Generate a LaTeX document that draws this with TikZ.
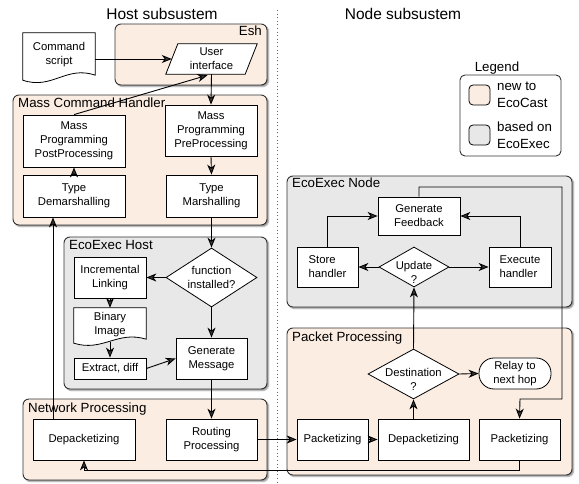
\documentclass[tikz,border=0pt]{standalone}
\usepackage{fontspec}
\setmainfont{Liberation Sans}
\usetikzlibrary{shapes.geometric,shadows.blur,arrows.meta}
\definecolor{peach}{HTML}{FBEDE2}
\definecolor{greyfill}{HTML}{E8E8E8}
\definecolor{frame}{HTML}{333333}
\newcommand{\nodefont}{\fontsize{11.3}{14}\selectfont}
\newcommand{\contfont}{\fontsize{13.3}{16}\selectfont}
\newcommand{\legfont}{\fontsize{13.3}{17}\selectfont}
\newcommand{\titlefont}{\fontsize{15.5}{18}\selectfont}
\tikzset{
  cont/.style={draw=frame, line width=0.9pt, rounded corners=6,
    blur shadow={shadow xshift=1.6pt, shadow yshift=-1.6pt, shadow blur steps=4, shadow blur radius=1.2pt, shadow opacity=45}},
  peachcont/.style={cont, fill=peach},
  greycont/.style={cont, fill=greyfill},
  contlabel/.style={font=\contfont, inner sep=0, anchor=base west},
  box/.style={draw, fill=white, line width=0.8pt, align=center, inner sep=0, font=\nodefont},
  plain/.style={inner sep=0, align=center, font=\nodefont},
  dia/.style={diamond, draw, fill=white, line width=0.8pt, inner sep=0},
  dialabel/.style={font=\nodefont, align=center, inner sep=0},
  docshape/.style={draw, fill=white, line width=0.8pt},
  arr/.style={line width=0.9pt, -{Stealth[length=10pt, width=8pt, inset=3pt]}},
  ln/.style={line width=0.9pt}
}
\begin{document}
\begin{tikzpicture}[x=1pt, y=-1pt]
\useasboundingbox (0,0) rectangle (579,484);

% titles
\node[font=\titlefont, inner sep=0] (htitle) at (162,14) {Host subsustem};
\node[font=\titlefont, inner sep=0] (ntitle) at (403,14) {Node subsustem};

% divider
\draw[draw=black!60, line width=0.9pt, dash pattern=on 1pt off 2.6pt] (277,10) -- (277,484);

% containers
\path[peachcont] (115,24) rectangle (267,85);
\node[font=\contfont, inner sep=0, anchor=base east] (eshlbl) at (262,36) {Esh};
\path[peachcont] (13,95) rectangle (267,225);
\node[contlabel] (mchlbl) at (18,108) {Mass Command Handler};
\path[greycont] (64,237) rectangle (267,389);
\node[contlabel] (ehlbl) at (69,250) {EcoExec Host};
\path[peachcont] (23,399) rectangle (267,480);
\node[contlabel] (nplbl) at (28,412) {Network Processing};
\path[greycont] (287,176) rectangle (572,307);
\node[contlabel] (enlbl) at (292,188) {EcoExec Node};
\path[peachcont] (287,328) rectangle (572,475);
\node[contlabel] (pplbl) at (292,341) {Packet Processing};

% legend
\node[font=\legfont, inner sep=0, anchor=base] (leglbl) at (497,72) {Legend};
\draw[line width=0.9pt, draw=frame, fill=white, rounded corners=5] (460,75) rectangle (561,156);
\draw[line width=0.8pt, fill=peach, rounded corners=4] (469,85) rectangle (490,105);
\draw[line width=0.8pt, fill=greyfill, rounded corners=4] (469,125) rectangle (490,145);
\node[font=\legfont, inner sep=0, align=left, anchor=west] (leg1) at (497,95) {new to\\EcoCast};
\node[font=\legfont, inner sep=0, align=left, anchor=west] (leg2) at (497,135) {based on\\EcoExec};

% command script (document)
\node[plain, minimum width=72, minimum height=49] (cs) at (59,57.5) {};
\draw[docshape] (cs.north west) -- (cs.north east) -- ([yshift=7]cs.south east)
  .. controls ([xshift=-29,yshift=17]cs.south east) and ([xshift=29,yshift=-8]cs.south west) .. ([yshift=2]cs.south west) -- cycle;
\node[plain] (cstext) at (59,55) {Command\\script};

% user interface (parallelogram)
\node[plain, minimum width=79, minimum height=30] (ui) at (211.5,59) {};
\draw[docshape] ([xshift=-6]ui.south west) -- ([xshift=6]ui.north west) -- ([xshift=6]ui.north east) -- ([xshift=-6]ui.south east) -- cycle;
\node[plain] (uitext) at (211.5,59) {User\\interface};

% mass command handler
\node[box, minimum width=102, minimum height=52] (post) at (74,141) {Mass\\Programming\\PostProcessing};
\node[box, minimum width=92, minimum height=51] (pre) at (211,130.5) {Mass\\Programming\\PreProcessing};
\node[box, minimum width=102, minimum height=42] (demarsh) at (74,196) {Type\\Demarshalling};
\node[box, minimum width=91, minimum height=42] (marsh) at (211.5,196) {Type\\Marshalling};

% ecoexec host
\node[dia, minimum width=91, minimum height=59,
  label={[dialabel]center:function\\installed?}] (fi) at (211.5,277.5) {};
\node[box, minimum width=72, minimum height=41] (inc) at (110,277.5) {Incremental\\Linking};
\node[plain, minimum width=72, minimum height=37] (bin) at (110,326.5) {};
\draw[docshape] (bin.north west) -- (bin.north east) -- ([yshift=6]bin.south east)
  .. controls ([xshift=-29,yshift=15]bin.south east) and ([xshift=29,yshift=-7]bin.south west) .. ([yshift=2]bin.south west) -- cycle;
\node[plain] (bintext) at (110,325) {Binary\\Image};
\node[box, minimum width=72, minimum height=21] (extr) at (110,368.5) {Extract, diff};
\node[box, minimum width=71, minimum height=41] (gm) at (211.5,358.5) {Generate\\Message};

% network processing
\node[box, minimum width=102, minimum height=41] (hdep) at (84,439.5) {Depacketizing};
\node[box, minimum width=91, minimum height=41] (rp) at (211.5,439.5) {Routing\\Processing};

% ecoexec node
\node[box, minimum width=82, minimum height=38] (fb) at (419,216) {Generate\\Feedback};
\node[box, minimum width=61, minimum height=40, align=left] (store) at (327.5,267) {Store\\handler};
\node[dia, minimum width=70, minimum height=40,
  label={[dialabel, yshift=-5]center:Update\\?}] (upd) at (414,267) {};
\node[box, minimum width=62, minimum height=40, align=left] (exe) at (520,267) {Execute\\handler};

% packet processing
\node[dia, minimum width=91, minimum height=50,
  label={[dialabel, yshift=-5]center:Destination\\?}] (dest) at (413.5,374) {};
\node[box, minimum width=72, minimum height=31, rounded corners=15] (relay) at (515,373.5) {Relay to\\next hop};
\node[box, minimum width=71, minimum height=41] (npk1) at (332.5,439.5) {Packetizing};
\node[box, minimum width=91, minimum height=41] (ndep) at (423.5,439.5) {Depacketizing};
\node[box, minimum width=81, minimum height=41] (npk2) at (519.5,439.5) {Packetizing};

% helper coordinates
\coordinate (upx) at (53,0);
\coordinate (r1) at (562,187);
\coordinate (r2) at (520,399);

% connectors
\draw[arr] (cs.east |- ui.west) -- (ui.west);
\draw[arr] (ui.south) -- (pre.north);
\draw[arr] (post.north) -- ([xshift=-4,yshift=-1]ui.south);
\draw[arr] (pre.south) -- (marsh.north);
\draw[arr] (demarsh.north) -- (post.south);
\draw[arr] (marsh.south) -- (fi.north);
\draw[arr] (fi.west) -- (inc.east);
\draw[arr] (fi.south) -- (gm.north);
\draw[arr] (inc.south) -- (bin.north);
\draw[arr] ([yshift=3]bin.south) -- (extr.north);
\draw[arr] (extr.east) -- (gm.west);
\draw[arr] (gm.south) -- (rp.north);
\draw[arr] (upx |- hdep.north) -- (upx |- demarsh.south);
\draw[arr] (rp.east) -- (npk1.west);
\draw[arr] (npk1.east) -- (ndep.west);
\draw[arr] (dest.south |- ndep.north) -- (dest.south);
\draw[arr] (dest.east) -- (relay.west);
\draw[arr] (dest.north) -- (upd.south);
\draw[arr] (upd.west) -- (store.east);
\draw[arr] (upd.east) -- (exe.west);
\draw[arr] (store.north) |- (fb.west);
\draw[arr] (exe.north) |- (fb.east);
\draw[arr] (fb.north) |- (r1) |- (r2) -- (npk2.north);
\draw[arr] (npk2.south) -- ++(0,10) -| (hdep.south);
\end{tikzpicture}
\end{document}
